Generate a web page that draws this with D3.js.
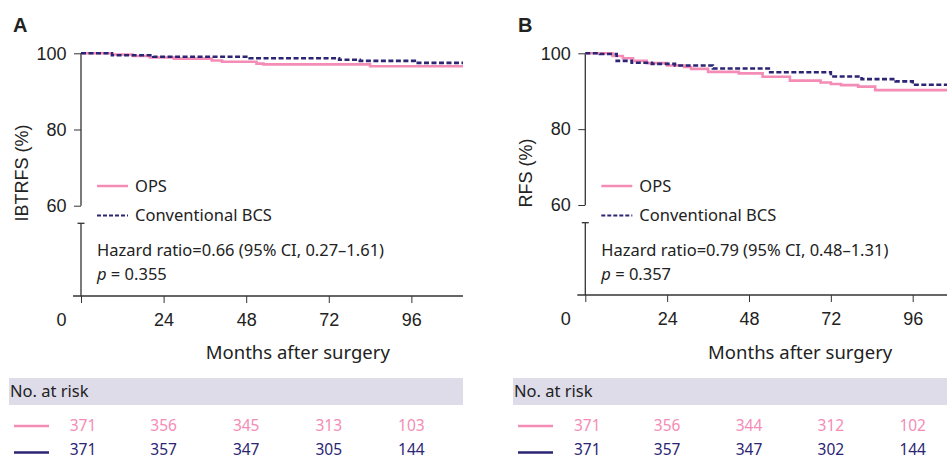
<!DOCTYPE html>
<html>
<head>
<meta charset="utf-8">
<script src="https://cdn.jsdelivr.net/npm/d3@7"></script>
<style>
    body { margin: 0; background: #fff; }
    svg { display: block; }
    .tick text { font-family: "Liberation Sans", Arial, sans-serif; font-size: 18px; fill: #222; }
    .note { font-family: "Noto Sans", sans-serif; font-size: 16.5px; fill: #222; }
</style>
</head>
<body>
<svg id="chart" width="947" height="459"></svg>
<script>
// tick labels
const monthTicks = [0, 24, 48, 72, 96];
const percentTicks = [60, 80, 100];

// Panel A - IBTRFS, step curves (month, percent)
const ibtrfsOpsMonths = [0, 9, 15, 20, 27, 38, 41, 51, 53, 84, 111];
const ibtrfsOpsValues = [100, 99.7, 99.3, 98.9, 98.6, 98.1, 97.8, 97.3, 97.1, 96.6, 96.6];
const ibtrfsBcsMonths = [0, 9, 21, 49, 75, 81, 97, 111];
const ibtrfsBcsValues = [100, 99.5, 99.1, 98.7, 98.3, 98.0, 97.5, 97.5];

// Panel B - RFS
const rfsOpsMonths = [0, 8, 11, 14, 18, 24, 29, 31, 36, 45, 52, 60, 69, 72, 75, 80, 85, 107];
const rfsOpsValues = [100, 99.3, 98.7, 98.0, 97.4, 96.8, 96.4, 95.9, 95.1, 94.7, 93.8, 92.8, 92.3, 91.9, 91.6, 91.2, 90.3, 90.3];
const rfsBcsMonths = [0, 4.3, 9.2, 13.6, 19.5, 26.3, 37.4, 54.2, 72, 81, 91, 96, 107];
const rfsBcsValues = [100, 99.8, 98.0, 97.5, 97.2, 96.8, 96.0, 95.0, 93.9, 93.2, 92.6, 91.7, 91.7];

// numbers at risk
const riskOpsA = [371, 356, 345, 313, 103];
const riskBcsA = [371, 357, 347, 305, 144];
const riskOpsB = [371, 356, 344, 312, 102];
const riskBcsB = [371, 357, 347, 302, 144];

const pink = "#f48cb6";
const navy = "#2b2574";
const axisColor = "#333";

const svg = d3.select("#chart");

function zip(months, values) {
    return months.map((m, i) => ({ m: m, v: values[i] }));
}

function drawPanel(p) {
    const g = svg.append("g");

    const x = d3.scaleLinear().domain([0, p.xMax]).range([p.axisX, p.xEnd]);
    const y = d3.scaleLinear().domain([60, 100]).range([p.y60, p.y100]);

    // panel letter
    g.append("text")
        .attr("x", p.letterX).attr("y", 32)
        .attr("font-family", "Liberation Sans, Arial, sans-serif")
        .attr("font-weight", "bold").attr("font-size", 20)
        .attr("fill", "#222")
        .text(p.letter);

    // y axis (upper part, 60-100)
    const yAxis = d3.axisLeft(y).tickValues(percentTicks).tickSize(7).tickPadding(7.5);
    const yg = g.append("g").attr("transform", `translate(${p.axisX},0)`).call(yAxis);
    yg.select(".domain").remove();
    yg.selectAll("line").attr("stroke", axisColor);
    g.append("line")
        .attr("x1", p.axisX).attr("x2", p.axisX)
        .attr("y1", p.y100).attr("y2", p.y60)
        .attr("stroke", axisColor).attr("stroke-width", 1.3);

    // broken lower part of y axis
    g.append("line")
        .attr("x1", p.axisX).attr("x2", p.axisX)
        .attr("y1", p.breakY).attr("y2", p.xAxisY)
        .attr("stroke", axisColor).attr("stroke-width", 1.3);
    g.append("line")
        .attr("x1", p.axisX - 3.5).attr("x2", p.axisX + 3.5)
        .attr("y1", p.breakY).attr("y2", p.breakY)
        .attr("stroke", axisColor).attr("stroke-width", 1.3);

    // x axis
    const xAxis = d3.axisBottom(x).tickValues(monthTicks).tickSize(7).tickPadding(10);
    const xg = g.append("g").attr("transform", `translate(0,${p.xAxisY})`).call(xAxis);
    xg.select(".domain").remove();
    xg.selectAll("line").attr("stroke", axisColor);
    xg.selectAll(".tick text").filter(d => d === 0).attr("dx", -20);
    g.append("line")
        .attr("x1", p.axisX - 8).attr("x2", p.xEnd)
        .attr("y1", p.xAxisY).attr("y2", p.xAxisY)
        .attr("stroke", axisColor).attr("stroke-width", 1.3);

    // y axis title
    g.append("text")
        .attr("transform", `translate(${p.axisX - 53},${p.titleY}) rotate(-90)`)
        .attr("text-anchor", "middle")
        .attr("font-family", "Liberation Sans, Arial, sans-serif")
        .attr("font-size", 18).attr("fill", "#222")
        .text(p.yTitle);

    // x axis title
    g.append("text")
        .attr("x", x(63)).attr("y", 359)
        .attr("text-anchor", "middle")
        .attr("class", "note")
        .style("font-size", "18.5px")
        .text("Months after surgery");

    // survival curves
    const line = d3.line().x(d => x(d.m)).y(d => y(d.v)).curve(d3.curveStepAfter);
    g.append("path").datum(zip(p.opsMonths, p.opsValues))
        .attr("d", line).attr("fill", "none")
        .attr("stroke", pink).attr("stroke-width", 2.6);
    g.append("path").datum(zip(p.bcsMonths, p.bcsValues))
        .attr("d", line).attr("fill", "none")
        .attr("stroke", navy).attr("stroke-width", 2.6)
        .attr("stroke-dasharray", "5,2.5");

    // legend
    const lx = p.axisX + 16;
    g.append("line").attr("x1", lx).attr("x2", lx + 31).attr("y1", 186).attr("y2", 186)
        .attr("stroke", pink).attr("stroke-width", 2.5);
    g.append("text").attr("class", "note").attr("x", lx + 38).attr("y", 192).text("OPS");
    g.append("line").attr("x1", lx).attr("x2", lx + 31).attr("y1", 215.5).attr("y2", 215.5)
        .attr("stroke", navy).attr("stroke-width", 2).attr("stroke-dasharray", "4,2");
    g.append("text").attr("class", "note").attr("x", lx + 38).attr("y", 221).text("Conventional BCS");

    // statistics
    g.append("text").attr("class", "note").attr("x", lx).attr("y", 256).text(p.hazard);
    const pt = g.append("text").attr("class", "note").attr("x", lx).attr("y", 280);
    pt.append("tspan").attr("font-style", "italic").text("p");
    pt.append("tspan").text(" = " + p.pValue);

    // number at risk table
    g.append("rect")
        .attr("x", p.boxX).attr("y", 378)
        .attr("width", p.xEnd - p.boxX).attr("height", 27)
        .attr("fill", "#dedce9");
    g.append("text").attr("class", "note").attr("x", p.boxX + 1).attr("y", 397)
        .text("No. at risk");

    const rows = [
        { values: p.riskOps, color: pink, y: 426, base: 431 },
        { values: p.riskBcs, color: navy, y: 452.5, base: 454.5 }
    ];
    rows.forEach(row => {
        g.append("line")
            .attr("x1", p.boxX + 5).attr("x2", p.boxX + 40)
            .attr("y1", row.y).attr("y2", row.y)
            .attr("stroke", row.color).attr("stroke-width", 2.5);
        g.selectAll(null).data(row.values).enter().append("text")
            .attr("class", "note")
            .attr("x", (d, i) => x(monthTicks[i]) + (i === 0 ? 2 : 0))
            .attr("y", row.base)
            .attr("text-anchor", "middle")
            .style("fill", row.color)
            .style("font-size", "15.5px")
            .text(d => d);
    });
}

drawPanel({
    letter: "A", letterX: 13,
    axisX: 81, xEnd: 463, xMax: 111,
    y100: 53.3, y60: 205.7, breakY: 223.3, xAxisY: 296,
    yTitle: "IBTRFS (%)", titleY: 173,
    opsMonths: ibtrfsOpsMonths, opsValues: ibtrfsOpsValues,
    bcsMonths: ibtrfsBcsMonths, bcsValues: ibtrfsBcsValues,
    hazard: "Hazard ratio=0.66 (95% CI, 0.27\u20131.61)", pValue: "0.355",
    boxX: 9, riskOps: riskOpsA, riskBcs: riskBcsA
});

drawPanel({
    letter: "B", letterX: 518,
    axisX: 585.3, xEnd: 947, xMax: (947 - 585.3) / (327.4 / 96),
    y100: 53.3, y60: 205, breakY: 222.7, xAxisY: 295,
    yTitle: "RFS (%)", titleY: 173,
    opsMonths: rfsOpsMonths, opsValues: rfsOpsValues,
    bcsMonths: rfsBcsMonths, bcsValues: rfsBcsValues,
    hazard: "Hazard ratio=0.79 (95% CI, 0.48\u20131.31)", pValue: "0.357",
    boxX: 513, riskOps: riskOpsB, riskBcs: riskBcsB
});
</script>
</body>
</html>
